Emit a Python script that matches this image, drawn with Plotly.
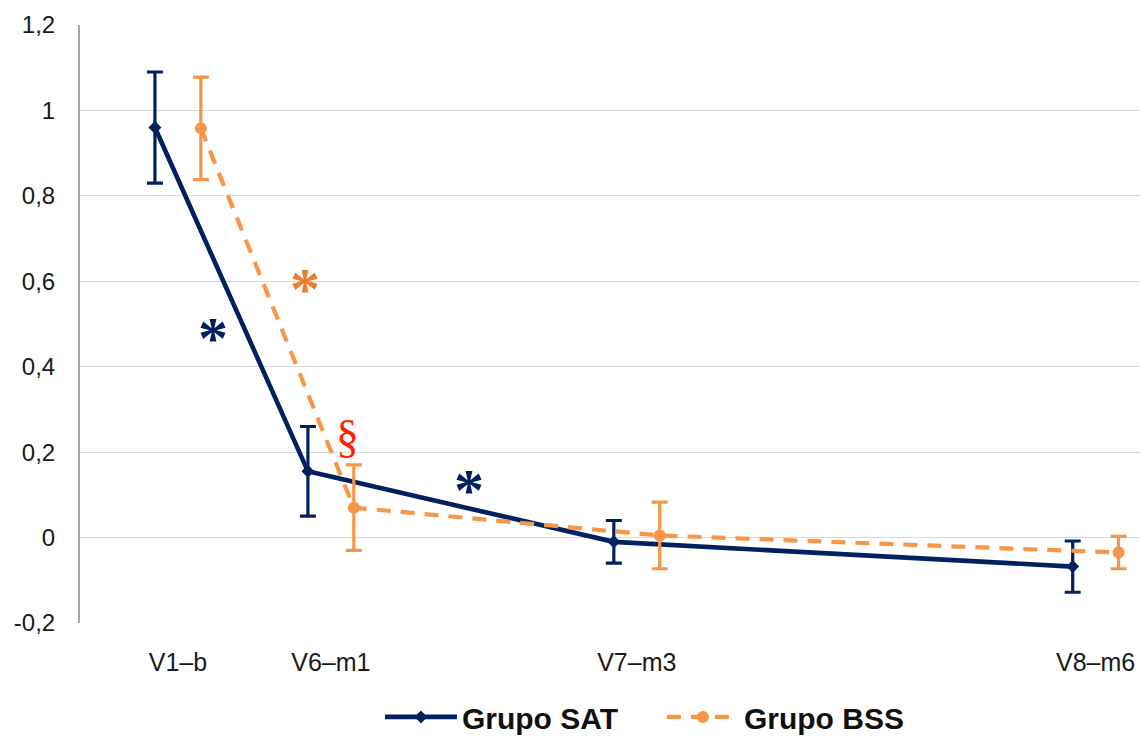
import plotly.graph_objects as go

# Visits and their follow-up time in months
visit_labels = ["V1–b", "V6–m1", "V7–m3", "V8–m6"]
visit_months = [0, 1, 3, 6]

# Group means and error-bar half widths
sat_mean = [0.96, 0.155, -0.01, -0.068]
sat_err = [0.13, 0.105, 0.05, 0.06]
bss_mean = [0.958, 0.07, 0.005, -0.035]
bss_err = [0.12, 0.10, 0.078, 0.038]

# Significance marks: (text, month, value, colour, size, weight, vertical nudge px)
marks = [
    ("*", 0.38, 0.487, "#002060", 60, "bold", -8),
    ("*", 0.98, 0.60, "#EE7B30", 60, "bold", -8),
    ("§", 1.26, 0.237, "#FF2200", 46, "normal", 0),
    ("*", 2.05, 0.131, "#002060", 60, "bold", -8),
]

NAVY = "#002060"
ORANGE = "#F79646"
shift = 0.3  # horizontal offset of the BSS series so bars do not overlap

sat_x = visit_months
bss_x = [m + shift for m in visit_months]
tick_x = [m + shift / 2 for m in visit_months]

fig = go.Figure()
fig.add_trace(go.Scatter(
    x=sat_x, y=sat_mean, name="Grupo SAT", mode="lines+markers",
    line=dict(color=NAVY, width=4.6),
    marker=dict(symbol="diamond", size=10, color=NAVY),
    error_y=dict(type="data", array=sat_err, color=NAVY, thickness=3.2, width=8),
))
fig.add_trace(go.Scatter(
    x=bss_x, y=bss_mean, name="Grupo BSS", mode="lines+markers",
    line=dict(color=ORANGE, width=4.2, dash="14px,10px"),
    marker=dict(symbol="circle", size=12, color=ORANGE),
    error_y=dict(type="data", array=bss_err, color=ORANGE, thickness=3.2, width=8),
))

for text, mx, my, col, size, wt, nudge in marks:
    fig.add_annotation(
        x=mx, y=my, text=text, showarrow=False,
        font=dict(family="Liberation Serif", size=size, color=col, weight=wt),
        xanchor="center", yanchor="middle", yshift=nudge,
    )

yvals = [-0.2, 0, 0.2, 0.4, 0.6, 0.8, 1.0, 1.2]
ytext = ["-0,2", "0", "0,2", "0,4", "0,6", "0,8", "1", "1,2"]

fig.update_layout(
    width=1140, height=738,
    margin=dict(l=80, r=0, t=25, b=115, autoexpand=False),
    paper_bgcolor="white", plot_bgcolor="white",
    font=dict(family="Liberation Sans", color="#1a1a1a"),
    showlegend=True,
    legend=dict(
        orientation="h", x=0.549, y=-0.157, xanchor="center", yanchor="middle",
        font=dict(family="Liberation Sans", size=30, color="#111111", weight="bold"),
        itemwidth=72, entrywidth=195,
    ),
    xaxis=dict(
        range=[-0.49, 6.44], tickvals=tick_x, ticktext=visit_labels,
        showgrid=False, zeroline=False, showline=False, ticks="",
        tickfont=dict(size=25), ticklabelstandoff=22, automargin=False,
    ),
    yaxis=dict(
        range=[-0.2, 1.2], tickvals=yvals, ticktext=ytext,
        showgrid=True, gridcolor="#d9d9d9", gridwidth=1,
        zeroline=False, showline=True, linecolor="#a6a6a6", linewidth=2,
        ticks="", tickfont=dict(size=24), ticklabelstandoff=18, automargin=False,
    ),
)

fig.write_html("out.html")
